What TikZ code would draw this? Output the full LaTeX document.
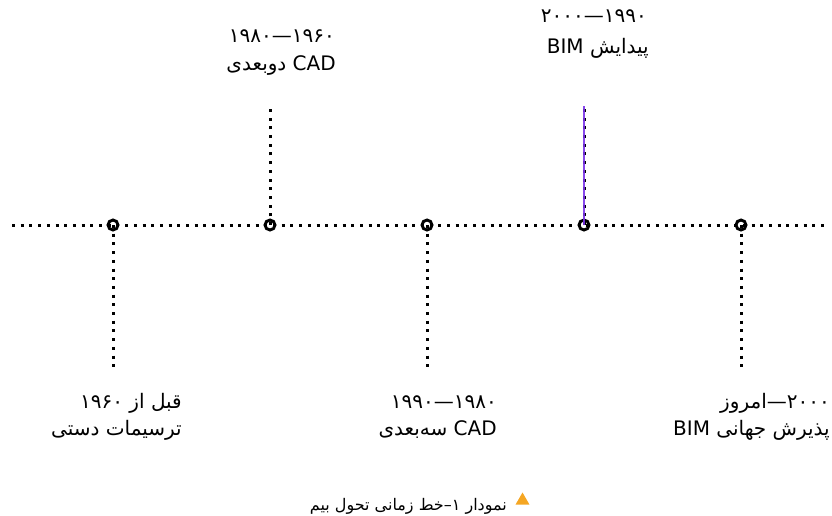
\documentclass[tikz,border=0pt]{standalone}
\usepackage{fontspec}
\setmainfont{DejaVu Sans}
\newfontfamily\arfont[Script=Arabic]{DejaVu Sans}
\TeXXeTstate=1
\usetikzlibrary{shapes.geometric}
\definecolor{bimviolet}{RGB}{122,52,232}
\definecolor{triorange}{RGB}{245,166,35}
\begin{document}
\begin{tikzpicture}[x=1pt,y=-1pt,
  dotline/.style={line width=3pt, dash pattern=on 3pt off 5.7pt, black},
  ring/.style={circle, draw=black, line width=2.9pt, minimum size=10pt, inner sep=0pt},
  lbl/.style={inner sep=0pt, font=\arfont\fontsize{20}{24}\selectfont},
  captxt/.style={inner sep=0pt, font=\arfont\fontsize{16}{19}\selectfont},
  ]
\useasboundingbox (0,0) rectangle (832,515);

% ring nodes on the timeline
\node[ring] (c1) at (113,225) {};
\node[ring] (c2) at (270,225) {};
\node[ring] (c3) at (427,225) {};
\node[ring] (c4) at (584,225) {};
\node[ring] (c5) at (741,225) {};

% line ends
\coordinate (L) at (12,225);
\coordinate (R) at (828,225);
\coordinate (t2) at (270,106);
\coordinate (t4) at (584,106);
\coordinate (b1) at (113,368);
\coordinate (b3) at (427,368);
\coordinate (b5) at (741,368);

\draw[dotline] (L) -- (R);
\draw[dotline] (c1.center) -- (b1);
\draw[dotline] (c2.center) -- (t2);
\draw[dotline] (c3.center) -- (b3);
\draw[dotline] (c4.center) -- (t4);
\draw[dotline] (c5.center) -- (b5);
\draw[bimviolet, line width=2.6pt, opacity=0.9] (c4.center) -- (t4);

% top labels
\node[lbl, anchor=base east] (t1a) at (335,42) {\beginR ۱۹۶۰\kern0pt—\kern0pt۱۹۸۰\endR};
\node[lbl, anchor=base east] (t1b) at (336,70) {\beginR CAD دوبعدی\endR};
\node[lbl, anchor=base east] (t2a) at (647,22) {\beginR ۱۹۹۰\kern0pt—\kern0pt۲۰۰۰\endR};
\node[lbl, anchor=base east] (t2b) at (649,53) {\beginR پیدایش BIM\endR};

% bottom labels
\node[lbl, anchor=base east] (b1a) at (182,408) {\beginR قبل از ۱۹۶۰\endR};
\node[lbl, anchor=base east] (b1b) at (182,435) {\beginR ترسیمات دستی\endR};
\node[lbl, anchor=base east] (b2a) at (497,408) {\beginR ۱۹۸۰\kern0pt—\kern0pt۱۹۹۰\endR};
\node[lbl, anchor=base east] (b2b) at (497,435) {\beginR CAD سه^^^^200cبعدی\endR};
\node[lbl, anchor=base east] (b3a) at (830,408) {\beginR ۲۰۰۰\kern0pt—\kern0ptامروز\endR};
\node[lbl, anchor=base east] (b3b) at (830,435) {\beginR پذیرش جهانی BIM\endR};

% caption
\node[captxt, anchor=base east] (capt) at (507,510) {\beginR نمودار ۱\kern0pt–\kern0ptخط زمانی تحول بیم\endR};
\node[regular polygon, regular polygon sides=3, fill=triorange, inner sep=0pt, minimum size=16pt] (tri) at (522.5,500.5) {};
\end{tikzpicture}
\end{document}
